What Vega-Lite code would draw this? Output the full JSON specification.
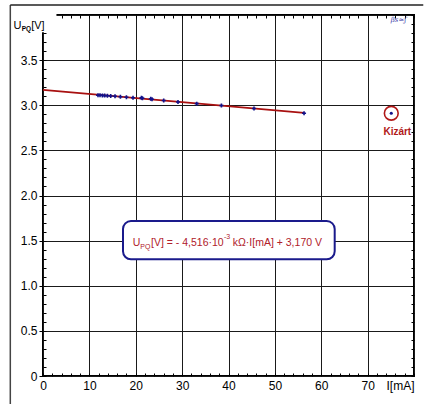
{
  "$schema": "https://vega.github.io/schema/vega-lite/v6.json",
  "width": 371,
  "height": 361,
  "autosize": "none",
  "padding": {"left": 43, "top": 15, "right": 10, "bottom": 28},
  "background": "#ffffff",
  "config": {
    "view": {"stroke": "#000000", "strokeWidth": 2},
    "font": "Liberation Sans",
    "axis": {"labelFont": "Liberation Sans", "labelFontSize": 12, "labelColor": "#000000", "gridColor": "#1a1a1a", "gridWidth": 1, "tickColor": "#000000", "tickWidth": 1, "title": null, "domain": false}
  },
  "datasets": {
    "pts": [
      {"I": 11.86, "U": 3.110, "status": "measured"},
      {"I": 12.29, "U": 3.110, "status": "measured"},
      {"I": 12.81, "U": 3.108, "status": "measured"},
      {"I": 13.30, "U": 3.107, "status": "measured"},
      {"I": 13.89, "U": 3.105, "status": "measured"},
      {"I": 14.60, "U": 3.103, "status": "measured"},
      {"I": 15.53, "U": 3.099, "status": "measured"},
      {"I": 16.69, "U": 3.094, "status": "measured"},
      {"I": 17.99, "U": 3.089, "status": "measured"},
      {"I": 19.41, "U": 3.083, "status": "measured"},
      {"I": 21.22, "U": 3.082, "status": "measured"},
      {"I": 21.44, "U": 3.077, "status": "measured"},
      {"I": 23.23, "U": 3.072, "status": "measured"},
      {"I": 23.51, "U": 3.067, "status": "measured"},
      {"I": 26.03, "U": 3.052, "status": "measured"},
      {"I": 29.11, "U": 3.036, "status": "measured"},
      {"I": 33.15, "U": 3.018, "status": "measured"},
      {"I": 38.47, "U": 2.997, "status": "measured"},
      {"I": 45.50, "U": 2.964, "status": "measured"},
      {"I": 56.29, "U": 2.911, "status": "measured"},
      {"I": 75.10, "U": 2.911, "status": "excluded"}
    ],
    "fit": [
      {"I": 0, "U": 3.170},
      {"I": 56.29, "U": 2.916}
    ]
  },
  "resolve": {"axis": {"x": "independent", "y": "independent"}},
  "layer": [
    {
      "data": {"name": "fit"},
      "mark": {"type": "line", "color": "#a81010", "strokeWidth": 1.8},
      "encoding": {
        "x": {"field": "I", "type": "quantitative", "scale": {"domain": [0, 80], "nice": false},
          "axis": {"orient": "bottom", "values": [0, 10, 20, 30, 40, 50, 60, 70, 80], "grid": true, "tickSize": 0, "labelPadding": 4, "labelFlush": false, "labelOverlap": false, "labelBound": false,
            "labelExpr": "datum.value == 80 ? 'I[mA]' : datum.label",
            "labelAlign": {"condition": {"test": "datum.value == 80", "value": "right"}, "value": "center"}}},
        "y": {"field": "U", "type": "quantitative", "scale": {"domain": [0, 4], "nice": false},
          "axis": {"orient": "left", "values": [0, 0.5, 1, 1.5, 2, 2.5, 3, 3.5, 4], "grid": true, "tickSize": 4, "labelPadding": 2, "labelFlush": false, "labelOverlap": false, "labelBound": false,
            "labelExpr": "datum.value == 4 ? '' : (datum.value == 0 ? '0' : format(datum.value, '.1f'))"}}
      }
    },
    {
      "data": {"name": "pts"},
      "transform": [{"filter": "datum.status == 'measured'"}],
      "mark": {"type": "point", "shape": "cross", "filled": true, "color": "#12128a", "size": 16, "opacity": 1},
      "encoding": {
        "x": {"field": "I", "type": "quantitative",
          "axis": {"orient": "bottom", "values": [0,2,4,6,8,10,12,14,16,18,20,22,24,26,28,30,32,34,36,38,40,42,44,46,48,50,52,54,56,58,60,62,64,66,68,70,72,74,76,78,80], "grid": false, "labels": false, "tickSize": -3}},
        "y": {"field": "U", "type": "quantitative",
          "axis": {"orient": "left", "values": [0,0.1,0.2,0.3,0.4,0.5,0.6,0.7,0.8,0.9,1,1.1,1.2,1.3,1.4,1.5,1.6,1.7,1.8,1.9,2,2.1,2.2,2.3,2.4,2.5,2.6,2.7,2.8,2.9,3,3.1,3.2,3.3,3.4,3.5,3.6,3.7,3.8,3.9,4], "grid": false, "labels": false, "tickSize": -3}}
      }
    },
    {
      "data": {"name": "pts"},
      "transform": [{"filter": "datum.status == 'excluded'"}],
      "mark": {"type": "point", "shape": "circle", "filled": false, "stroke": "#b01818", "strokeWidth": 1.6, "size": 190, "opacity": 1},
      "encoding": {
        "x": {"field": "I", "type": "quantitative",
          "axis": {"orient": "top", "values": [0,2,4,6,8,10,12,14,16,18,20,22,24,26,28,30,32,34,36,38,40,42,44,46,48,50,52,54,56,58,60,62,64,66,68,70,72,74,76,78,80], "grid": false, "labels": false, "tickSize": -3}},
        "y": {"field": "U", "type": "quantitative",
          "axis": {"orient": "right", "values": [0,0.1,0.2,0.3,0.4,0.5,0.6,0.7,0.8,0.9,1,1.1,1.2,1.3,1.4,1.5,1.6,1.7,1.8,1.9,2,2.1,2.2,2.3,2.4,2.5,2.6,2.7,2.8,2.9,3,3.1,3.2,3.3,3.4,3.5,3.6,3.7,3.8,3.9,4], "grid": false, "labels": false, "tickSize": -3}}
      }
    },
    {
      "data": {"name": "pts"},
      "transform": [{"filter": "datum.status == 'excluded'"}],
      "mark": {"type": "point", "shape": "circle", "filled": true, "color": "#12128a", "size": 10, "opacity": 1},
      "encoding": {
        "x": {"field": "I", "type": "quantitative", "axis": null},
        "y": {"field": "U", "type": "quantitative", "axis": null}
      }
    },
    {
      "data": {"values": [{}]},
      "mark": {"type": "text", "text": "Kizárt", "font": "Liberation Sans", "fontSize": 10, "fontWeight": "bold", "color": "#b01818", "align": "center", "baseline": "middle"},
      "encoding": {"x": {"datum": 76.4, "type": "quantitative", "axis": null}, "y": {"datum": 2.707, "type": "quantitative", "axis": null}}
    },
    {
      "data": {"values": [{}]},
      "mark": {"type": "rect", "color": "#ffffff", "opacity": 1},
      "encoding": {"x": {"datum": -6.7, "type": "quantitative", "axis": null}, "x2": {"datum": 2.9}, "y": {"datum": 3.81, "type": "quantitative", "axis": null}, "y2": {"datum": 4.08}}
    },
    {
      "data": {"values": [{}]},
      "mark": {"type": "rule", "color": "#444444", "strokeWidth": 1.5},
      "encoding": {"x": {"datum": -7.05, "type": "quantitative", "axis": null}, "y": {"datum": -0.4, "type": "quantitative", "axis": null}, "y2": {"datum": 4.111}}
    },
    {
      "data": {"values": [{}]},
      "mark": {"type": "rule", "color": "#222222", "strokeWidth": 1.5},
      "encoding": {"x": {"datum": -7.05, "type": "quantitative", "axis": null}, "x2": {"datum": 82}, "y": {"datum": 4.111, "type": "quantitative", "axis": null}}
    },
    {
      "data": {"values": [{}]},
      "mark": {"type": "text", "text": "U", "font": "Liberation Sans", "fontSize": 11, "color": "#000000", "align": "left", "baseline": "alphabetic"},
      "encoding": {"x": {"datum": -6.35, "type": "quantitative", "axis": null}, "y": {"datum": 3.842, "type": "quantitative", "axis": null}}
    },
    {
      "data": {"values": [{}]},
      "mark": {"type": "text", "text": "PQ", "font": "Liberation Sans", "fontSize": 6.5, "fontWeight": "bold", "color": "#000000", "align": "left", "baseline": "alphabetic", "dy": 2},
      "encoding": {"x": {"datum": -4.6, "type": "quantitative", "axis": null}, "y": {"datum": 3.842, "type": "quantitative", "axis": null}}
    },
    {
      "data": {"values": [{}]},
      "mark": {"type": "text", "text": "[V]", "font": "Liberation Sans", "fontSize": 11, "color": "#000000", "align": "left", "baseline": "alphabetic"},
      "encoding": {"x": {"datum": -2.55, "type": "quantitative", "axis": null}, "y": {"datum": 3.842, "type": "quantitative", "axis": null}}
    },
    {
      "data": {"values": [{}]},
      "mark": {"type": "text", "text": "βs≈ʃ", "font": "DejaVu Serif", "fontSize": 7, "fontStyle": "italic", "color": "#3a3aa8", "align": "left", "baseline": "middle"},
      "encoding": {"x": {"datum": 75.0, "type": "quantitative", "axis": null}, "y": {"datum": 3.945, "type": "quantitative", "axis": null}}
    },
    {
      "data": {"values": [{}]},
      "mark": {"type": "rect", "fill": "#ffffff", "stroke": "#1a1a8c", "strokeWidth": 2, "cornerRadius": 8, "opacity": 1},
      "encoding": {"x": {"datum": 17.25, "type": "quantitative", "axis": null}, "x2": {"datum": 62.9}, "y": {"datum": 1.293, "type": "quantitative", "axis": null}, "y2": {"datum": 1.717}}
    },
    {
      "data": {"values": [{}]},
      "mark": {"type": "text", "text": "U", "font": "Liberation Sans", "fontSize": 10.5, "color": "#b0202a", "align": "left", "baseline": "alphabetic"},
      "encoding": {"x": {"datum": 19.34, "type": "quantitative", "axis": null}, "y": {"datum": 1.445, "type": "quantitative", "axis": null}}
    },
    {
      "data": {"values": [{}]},
      "mark": {"type": "text", "text": "PQ", "font": "Liberation Sans", "fontSize": 7, "color": "#b0202a", "align": "left", "baseline": "alphabetic", "dy": 3},
      "encoding": {"x": {"datum": 20.99, "type": "quantitative", "axis": null}, "y": {"datum": 1.445, "type": "quantitative", "axis": null}}
    },
    {
      "data": {"values": [{}]},
      "mark": {"type": "text", "text": "[V] = - 4,516·10", "font": "Liberation Sans", "fontSize": 10.5, "color": "#b0202a", "align": "left", "baseline": "alphabetic"},
      "encoding": {"x": {"datum": 23.29, "type": "quantitative", "axis": null}, "y": {"datum": 1.445, "type": "quantitative", "axis": null}}
    },
    {
      "data": {"values": [{}]},
      "mark": {"type": "text", "text": "-3", "font": "Liberation Sans", "fontSize": 7, "color": "#b0202a", "align": "left", "baseline": "alphabetic", "dy": -7},
      "encoding": {"x": {"datum": 39.03, "type": "quantitative", "axis": null}, "y": {"datum": 1.445, "type": "quantitative", "axis": null}}
    },
    {
      "data": {"values": [{}]},
      "mark": {"type": "text", "text": "kΩ·I[mA] + 3,170 V", "font": "Liberation Sans", "fontSize": 10.5, "color": "#b0202a", "align": "left", "baseline": "alphabetic"},
      "encoding": {"x": {"datum": 40.91, "type": "quantitative", "axis": null}, "y": {"datum": 1.445, "type": "quantitative", "axis": null}}
    }
  ]
}
